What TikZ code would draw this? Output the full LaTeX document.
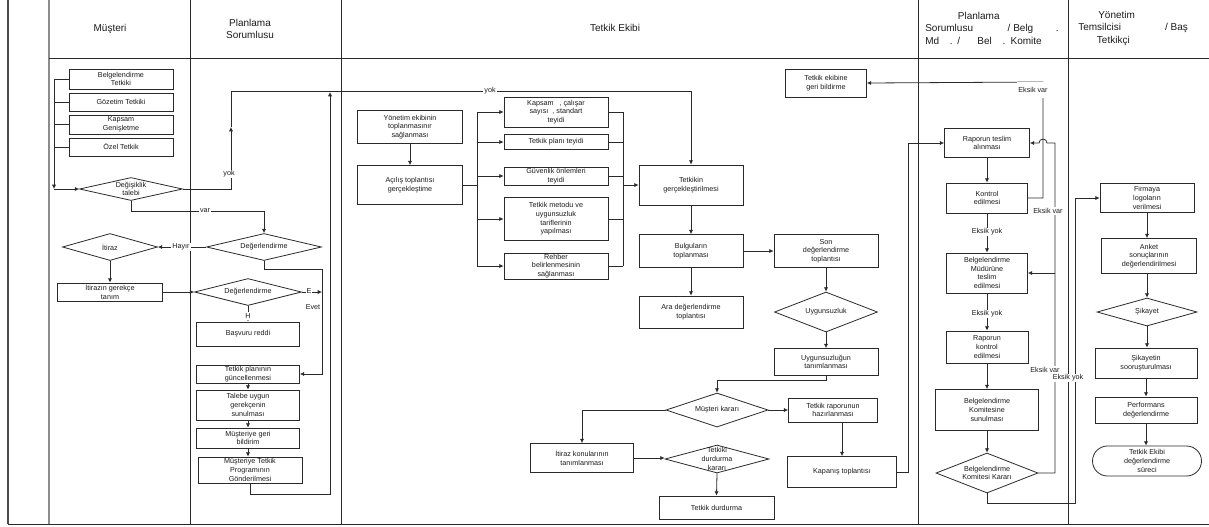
\documentclass[tikz,border=0pt]{standalone}
\usepackage{fontspec}
\setmainfont{Liberation Sans}
\usetikzlibrary{arrows.meta,shapes.geometric,shapes.misc}
\definecolor{ln}{HTML}{2A2A2A}
\definecolor{tx}{HTML}{1A1A1A}
\begin{document}
\begin{tikzpicture}[x=0.75pt,y=-0.75pt,
  every node/.style={text=tx},
  box/.style={draw=ln, line width=0.6pt, rectangle, inner sep=0pt, align=center, font=\fontsize{5.4}{6.5}\selectfont},
  wh/.style 2 args={minimum width=#1*0.75pt, minimum height=#2*0.75pt},
  dia/.style={draw=ln, line width=0.6pt, diamond, inner sep=0pt},
  dlab/.style={inner sep=0pt, align=center, font=\fontsize{5.4}{6.5}\selectfont},
  lab/.style={fill=white, inner sep=0.8pt, font=\fontsize{5.4}{6.5}\selectfont},
  conn/.style={draw=ln, line width=0.6pt},
  arr/.style={conn, -{Latex[length=3.2pt,width=3.2pt]}},
  lane/.style={draw=ln, line width=0.7pt},
  hdr/.style={align=center, font=\fontsize{7.5}{9.4}\selectfont, inner sep=0pt},
]
\useasboundingbox (0,0) rectangle (1209,526);

% ---- swimlane frame
\draw[draw=black!70, line width=1.1pt] (8,0) -- (8,524);
\draw[draw=black!45, line width=1.5pt] (49,0) -- (49,524);
\draw[lane] (190,0) -- (190,524);
\draw[lane] (341,0) -- (341,524);
\draw[lane] (918,0) -- (918,524);
\draw[lane] (1068,0) -- (1068,524);
\draw[lane] (49,58) -- (1209,58);
\draw[lane] (8,524) -- (1209,524);

% ---- headers
\node[hdr] at (110,29) {Müşteri};
\node[hdr] at (250,29) {Planlama\\Sorumlusu};
\node[hdr] at (615,28) {Tetkik Ekibi};
\node[hdr, align=left, anchor=west] at (925,28) {\hspace*{24.5pt}Planlama\\Sorumlusu\hspace{26pt}/ Belg\hspace{17pt}.\\Md\hspace{8pt}.\hspace{3.5pt}/\hspace{13pt}Bel\hspace{8pt}.\hspace{4pt}Komite};
\node[hdr, align=left, anchor=west] at (1078,28) {\hspace*{15pt}Yönetim\\Temsilcisi\hspace{33pt}/ Baş\\\hspace*{14pt}Tetkikçi};

% ---- Müşteri lane
\node[box,wh={104}{20}] (b1) at (121,79) {Belgelendirme\\Tetkiki};
\node[box,wh={104}{18}] (b2) at (121,102) {Gözetim Tetkiki};
\node[box,wh={104}{19}] (b3) at (121,124.5) {Kapsam\\Genişletme};
\node[box,wh={104}{18}] (b4) at (121,147) {Özel Tetkik};
\node[dia,wh={103}{23}] (dt) at (131,189) {};
\node[dlab] at (dt) {Değişiklik\\talebi};
\node[dia,wh={95}{27}] (it) at (110,247) {};
\node[dlab] at (it) {İtiraz};
\node[box,wh={105}{18}] (ig) at (110,292) {İtirazın gerekçe\\tanım};

\coordinate (bj) at (54,189);
\draw[arr] (b1.west) -| (bj);
\draw[conn] (b2.west) -- (b2.west -| bj);
\draw[conn] (b3.west) -- (b3.west -| bj);
\draw[conn] (b4.west) -- (b4.west -| bj);
\draw[arr] (bj) -- (dt.west);

% ---- Planlama Sorumlusu lane
\node[dia,wh={115}{27}] (d1) at (264,247) {};
\node[dlab] at (d1) {Değerlendirme};
\node[dia,wh={107}{27}] (d2) at (248,292) {};
\node[dlab] at (d2) {Değerlendirme};
\node[box,wh={103}{24}] (br) at (248,334) {Başvuru reddi};
\node[box,wh={103}{18}] (tp) at (248,374) {Tetkik planının\\güncellenmesi};
\node[box,wh={103}{30}] (tu) at (248,405) {Talebe uygun\\gerekçenin\\sunulması};
\node[box,wh={103}{20}] (mg) at (248,438) {Müşteriye geri\\bildirim};
\node[box,wh={104}{26}] (mp) at (250,470) {Müşteriye Tetkik\\Programının\\Gönderilmesi};

% ---- Tetkik Ekibi lane
\node[box,wh={105}{33}] (ye) at (410,127) {Yönetim ekibinin\\toplanmasınır\\sağlanması};
\node[box,wh={105}{39}] (ac) at (410,185) {Açılış toplantısı\\gerçekleştime};
\node[box,wh={104}{30}] (k1) at (556,112) {Kapsam~~~, çalışar\\sayısı~~, standart\\teyidi};
\node[box,wh={104}{15}] (k2) at (556,142) {Tetkik planı teyidi};
\node[box,wh={104}{18}] (k3) at (556,176) {Güvenlik önlemleri\\teyidi};
\node[box,wh={104}{43}] (k4) at (556,219) {Tetkik metodu ve\\uygunsuzluk\\tariflerinin\\yapılması};
\node[box,wh={104}{26}] (k5) at (556,266) {Rehber\\belirlenmesinin\\sağlanması};
\node[box,wh={104}{40}] (tg) at (691,185) {Tetkikin\\gerçekleştirilmesi};
\node[box,wh={104}{33}] (bt) at (691,251) {Bulguların\\toplanması};
\node[box,wh={104}{32}] (ad) at (691,312) {Ara değerlendirme\\toplantısı};
\node[box,wh={104}{33}] (sd) at (826,251) {Son\\değerlendirme\\toplantısı};
\node[dia,wh={103}{40}] (uy) at (826,312) {};
\node[dlab] at (uy) {Uygunsuzluk};
\node[box,wh={104}{27}] (ut) at (826,362) {Uygunsuzluğun\\tanımlanması};
\node[dia,wh={102}{34}] (mk) at (717,410) {};
\node[dlab] at (mk) {Müşteri kararı};
\node[box,wh={89}{24}] (tr) at (833,410) {Tetkik raporunun\\hazırlanması};
\node[box,wh={103}{29}] (ik) at (582,458) {İtiraz konularının\\tanımlanması};
\node[dia,wh={104}{28}] (td) at (717,459) {};
\node[dlab] at (td) {Tetkiki\\durdurma\\kararı};
\node[box,wh={115}{23}] (tdu) at (716.5,507.5) {Tetkik durdurma};
\node[box,wh={109}{31}] (kt) at (842,472) {Kapanış toplantısı};
\node[box,wh={81}{28}] (te) at (826,83) {Tetkik ekibine\\geri bildirme};

% ---- connectors, Müşteri / Planlama
\coordinate (ya) at (231,127);
\coordinate (yb) at (231,91);
\draw[arr] (dt.east) -| (ya);
\draw[arr] (ya) -- (yb) -| (tg.north);
\node[lab] at (229,174) {yok};
\node[lab] at (490,91) {yok};

\draw[arr] (dt.south) -- ++(0,10) -| (d1.north);
\node[lab] at (205,211) {var};

\draw[arr] (d1.west) -- (it.east);
\node[lab] at (181,247) {Hayır};
\draw[arr] (it.south) -- (ig.north);
\draw[arr] (ig.east) -- (d2.west);

\coordinate (ec) at (322,269);
\coordinate (ev) at (322,292);
\draw[arr] (d1.south) |- (ec) |- (tp.east);
\draw[arr] (d2.east) -- (ev);
\node[lab] at (309,291) {E};
\node[dlab] at (313,307) {Evet};
\draw[arr] (d2.south) -- (br.north);
\node[lab] at (248,316) {H};

\draw[arr] (tp.south) -- (tu.north);
\draw[arr] (tu.south) -- (mg.north);
\draw[arr] (mg.south) -- (mg.south |- mp.north);

\coordinate (m1) at (330,494);
\coordinate (m2) at (330,92);
\draw[arr] (mp.south) |- (m1) -- (m2);

% ---- connectors, Tetkik Ekibi
\draw[arr] (ye.south) -- (ac.north);
\coordinate (L1) at (477,112);
\coordinate (L5) at (477,266);
\draw[conn] (ac.east) -- (ac.east -| L1);
\draw[conn] (L1) -- (L5);
\draw[arr] (L1) -- (k1.west);
\draw[arr] (k2.west -| L1) -- (k2.west);
\draw[arr] (k3.west -| L1) -- (k3.west);
\draw[arr] (k4.west -| L1) -- (k4.west);
\draw[arr] (L5) -- (k5.west);
\coordinate (R1) at (623,112);
\coordinate (R5) at (623,266);
\draw[conn] (R1) -- (R5);
\draw[conn] (k1.east) -- (R1);
\draw[conn] (k2.east) -- (k2.east -| R1);
\draw[conn] (k3.east) -- (k3.east -| R1);
\draw[conn] (k4.east) -- (k4.east -| R1);
\draw[conn] (k5.east) -- (R5);
\draw[arr] (tg.west -| R1) -- (tg.west);

\draw[arr] (tg.south) -- (bt.north);
\draw[arr] (bt.south) -- (ad.north);
\draw[arr] (bt.east) -- (sd.west);
\draw[arr] (sd.south) -- (uy.north);
\draw[arr] (uy.south) -- (ut.north);
\draw[arr] (ut.south) -- ++(0,4) -| (mk.north);
\draw[arr] (mk.east) -- (tr.west);
\draw[arr] (mk.west) -| (ik.north);
\draw[arr] (ik.east) -- (ik.east -| td.west);
\draw[arr] (td.south) -- (tdu.north);
\draw[arr] (tr.south -| kt.north) -- (kt.north);

% ---- Planlama Sorumlusu / Belg. Md. / Bel. Komite lane
\node[box,wh={85}{29}] (rt) at (987,143) {Raporun teslim\\alınması};
\node[box,wh={81}{30}] (ke) at (987,198) {Kontrol\\edilmesi};
\node[box,wh={81}{40}] (bm) at (987,273) {Belgelendirme\\Müdürüne\\teslim\\edilmesi};
\node[box,wh={82}{32}] (rk) at (987,347) {Raporun\\kontrol\\edilmesi};
\node[box,wh={103}{41}] (bk) at (987,410) {Belgelendirme\\Komitesine\\sunulması};
\node[dia,wh={102}{40}] (kk) at (987,473) {};
\node[dlab] at (kk) {Belgelendirme\\Komitesi Kararı};

\draw[arr] (kt.east) -- ++(11,0) |- (rt.west);
\draw[arr] (rt.south) -- (ke.north);
\draw[arr] (ke.south) -- (bm.north);
\node[lab] at (987,232) {Eksik yok};
\draw[arr] (bm.south) -- (rk.north);
\node[lab] at (987,314) {Eksik yok};
\draw[arr] (rk.south) -- (bk.north);
\draw[arr] (bk.south) -- (kk.north);

\coordinate (ev1) at (1043,82);
\draw[arr] (ke.east) -| (ev1) -- (te.east);
\node[fill=white, inner xsep=1pt, inner ysep=4pt, font=\fontsize{5.4}{6.5}\selectfont] at (1033,90) {Eksik var};

\coordinate (c1) at (1055,143);
\coordinate (c2) at (1055,273);
\draw[arr] (kk.east) -| (c1) -- (1047,143) arc[start angle=0,end angle=180,radius=3pt] -- (rt.east);
\draw[arr] (c2) -- (bm.east);
\node[lab] at (1048,211) {Eksik var};

% ---- Yönetim Temsilcisi / Baş Tetkikçi lane
\node[box,wh={94}{29}] (fl) at (1147,198) {Firmaya\\logoların\\verilmesi};
\node[box,wh={95}{35}] (an) at (1149,256) {Anket\\sonuçlarının\\değerlendirilmesi};
\node[dia,wh={100}{28}] (sk) at (1147,312) {};
\node[dlab] at (sk) {Şikayet};
\node[box,wh={102}{30}] (ss) at (1146,363) {Şikayetin\\sooruşturulması};
\node[box,wh={102}{26}] (pd) at (1146,410) {Performans\\değerlendirme};
\node[box,rounded rectangle,wh={109}{30}] (ted) at (1147,461) {Tetkik Ekibi\\değerlendirme\\süreci};

\coordinate (c3) at (1075,503);
\draw[arr] (kk.south) |- (c3) |- (fl.west);
\node[lab] at (1045,370) {Eksik var};
\node[lab] at (1068,378) {Eksik yok};

\draw[arr] (fl.south) -- (fl.south |- an.north);
\draw[arr] (an.south -| sk.north) -- (sk.north);
\draw[arr] (sk.south) -- (sk.south |- ss.north);
\draw[arr] (ss.south) -- (pd.north);
\draw[arr] (pd.south) -- (pd.south |- ted.north);
\end{tikzpicture}
\end{document}
